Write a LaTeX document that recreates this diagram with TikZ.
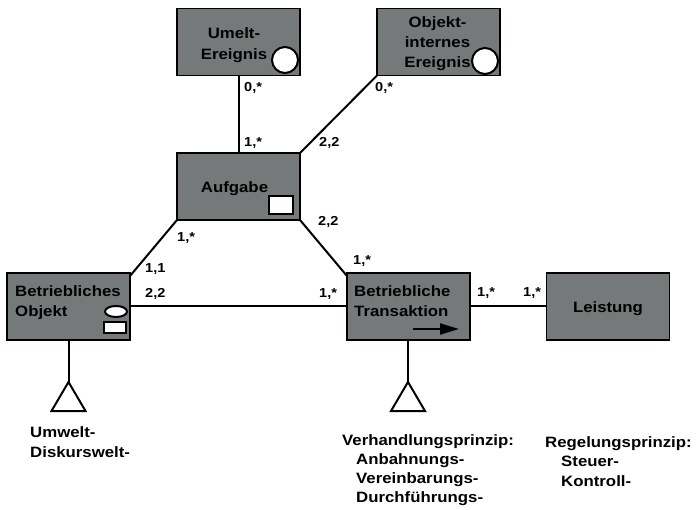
\documentclass[tikz,border=0pt]{standalone}
\usepackage{fontspec}
\setmainfont{Liberation Sans}[FakeStretch=1.12, BoldFeatures={FakeStretch=1.12}]
\usetikzlibrary{arrows.meta,shapes.geometric}
\definecolor{boxgray}{RGB}{118,121,121}
\begin{document}
\begin{tikzpicture}[x=1pt,y=-1pt,
  box/.style={draw=black, line width=1.2pt, fill=boxgray, minimum width=123pt,
    minimum height=67pt, inner sep=0pt, outer sep=0pt},
  txt/.style={font=\fontsize{15}{20}\selectfont\bfseries, inner sep=0pt, anchor=base},
  card/.style={font=\fontsize{13}{15}\selectfont\bfseries, inner sep=0pt, anchor=base west},
  conn/.style={line width=2pt},
  marker/.style={draw=black, line width=2pt, fill=white},
  gen/.style={line width=2pt, line join=miter}]
\useasboundingbox (0,0) rectangle (696,510);

% entity types
\node[box] (umelt)   at (238.5,42)  {};
\node[box] (objint)  at (438.5,42)  {};
\node[box] (aufgabe) at (238.5,186.5) {};
\node[box] (objekt)  at (68.5,306.5) {};
\node[box] (trans)   at (408.5,306.5) {};
\node[box] (leist)   at (608,306.5) {};

% box captions
\node[txt, text width=90pt, align=center, font=\fontsize{15}{21}\selectfont\bfseries]
  (umeltT) at (234,39) {Umelt-\\Ereignis};
\node[txt, text width=90pt, align=center] (objintT) at (437.5,28) {Objekt-\\internes\\Ereignis};
\node[txt] (aufgabeT) at (234.5,193) {Aufgabe};
\node[txt, anchor=base west, text width=115pt, align=left] (objektT) at (15,297) {Betriebliches\\Objekt};
\node[txt, anchor=base west, text width=115pt, align=left] (transT) at (354,297) {Betriebliche\\Transaktion};
\node[txt] (leistT) at (608,313) {Leistung};

% type symbols inside the boxes
\node[marker, circle, minimum size=26pt, inner sep=0pt] (evA) at (285,60) {};
\node[marker, circle, minimum size=26pt, inner sep=0pt] (evB) at (485,61) {};
\node[marker, rectangle, minimum width=24pt, minimum height=18pt, inner sep=0pt] (task) at (281,205) {};
\node[marker, ellipse, minimum width=22pt, minimum height=11pt, inner sep=0pt] (objE) at (116,311.5) {};
\node[marker, rectangle, minimum width=22pt, minimum height=11pt, inner sep=0pt] (objR) at (115,327.5) {};
\coordinate (arrS) at (413,329);
\coordinate (arrE) at (459,329);
\draw[line width=2pt, -{Triangle[length=19pt,width=11pt]}] (arrS) -- (arrE);

% relationships
\draw[conn] (umelt.south) -- (aufgabe.north);
\draw[conn] (objint.south west) -- (aufgabe.north east);
\draw[conn] (aufgabe.south west) -- ([yshift=-3pt]objekt.north east);
\draw[conn] (aufgabe.south east) -- ([yshift=-3pt]trans.north west);
\draw[conn] (objekt.east) -- (trans.west);
\draw[conn] (trans.east) -- (leist.west);

% specialisation triangles
\coordinate (genA) at (68.5,382);
\coordinate (genB) at (408,382);
\draw[conn] (objekt.south) -- (genA);
\draw[conn] (trans.south -| genB) -- (genB);
\draw[gen] (genA) -- ++(-17,29) -- ++(34,0) -- cycle;
\draw[gen] (genB) -- ++(-17,29) -- ++(34,0) -- cycle;

% cardinalities
\node[card] (c1)  at (244,92)  {0,*};
\node[card] (c2)  at (244,147) {1,*};
\node[card] (c3)  at (375,92)  {0,*};
\node[card] (c4)  at (319,147) {2,2};
\node[card] (c5)  at (177,242) {1,*};
\node[card] (c6)  at (318,226) {2,2};
\node[card] (c7)  at (145,273) {1,1};
\node[card] (c8)  at (145,298) {2,2};
\node[card] (c9)  at (353,265) {1,*};
\node[card] (c10) at (319,298) {1,*};
\node[card] (c11) at (477,297) {1,*};
\node[card] (c12) at (523,297) {1,*};

% subtype lists
\node[txt, anchor=base west, text width=120pt, align=left] (subA) at (30,437) {Umwelt-\\Diskurswelt-};
\node[txt, anchor=base west, text width=170pt, align=left,
  font=\fontsize{15}{19}\selectfont\bfseries] (subB) at (342,445)
  {Verhandlungsprinzip:\\\hspace*{14pt}Anbahnungs-\\\hspace*{14pt}Vereinbarungs-\\\hspace*{14pt}Durchführungs-};
\node[txt, anchor=base west, text width=160pt, align=left,
  font=\fontsize{15}{19.5}\selectfont\bfseries] (subC) at (545,447)
  {Regelungsprinzip:\\\hspace*{16pt}Steuer-\\\hspace*{16pt}Kontroll-};
\end{tikzpicture}
\end{document}
